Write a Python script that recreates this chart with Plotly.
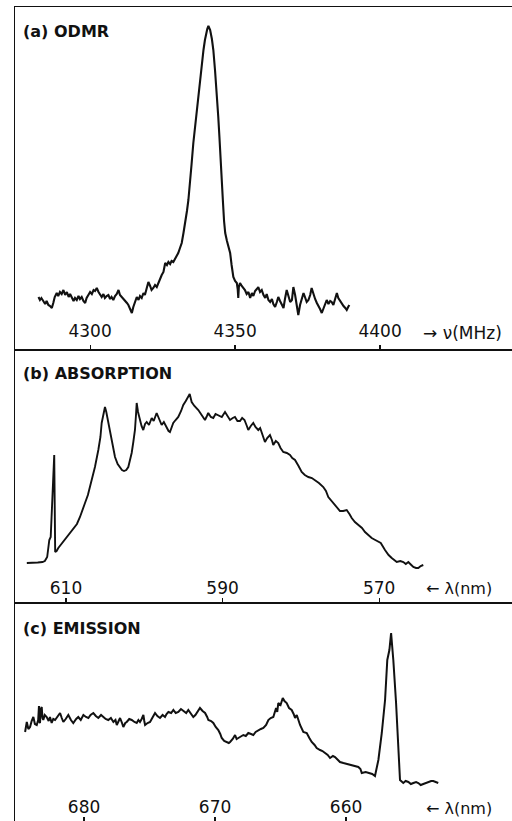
import plotly.graph_objects as go

# ---------------- data ----------------
odmr_freq = [4282.2, 4282.7, 4283.2, 4283.9, 4284.5, 4285.0, 4285.6, 4286.2, 4286.8, 4287.3, 4287.8, 4288.5,
             4289.0, 4289.6, 4290.2, 4290.8, 4291.4, 4292.0, 4292.6, 4293.1, 4293.7, 4294.3, 4294.8, 4295.4,
             4296.0, 4296.5, 4297.1, 4297.7, 4298.3, 4298.8, 4299.4, 4300.0, 4300.6, 4301.2, 4301.7, 4302.3,
             4302.9, 4303.4, 4304.0, 4304.6, 4305.1, 4305.7, 4306.3, 4306.9, 4307.4, 4308.0, 4308.6, 4309.2,
             4309.8, 4310.3, 4310.9, 4311.5, 4312.1, 4312.7, 4313.2, 4313.8, 4314.4, 4314.9, 4315.5, 4316.1,
             4316.7, 4317.2, 4317.8, 4318.4, 4318.9, 4319.5, 4320.1, 4320.7, 4321.2, 4321.8, 4322.4, 4323.0,
             4323.6, 4324.1, 4324.7, 4325.3, 4325.9, 4326.5, 4327.0, 4327.6, 4328.1, 4328.7, 4329.3, 4329.8,
             4330.4, 4331.0, 4331.6, 4332.2, 4332.8, 4333.4, 4333.9, 4334.5, 4335.0, 4335.6, 4336.2, 4336.8,
             4337.3, 4337.9, 4338.5, 4339.1, 4339.6, 4340.0, 4340.4, 4340.8, 4341.1, 4341.4, 4342.0, 4342.5,
             4343.1, 4343.7, 4344.2, 4344.6, 4345.0, 4345.4, 4345.8, 4346.2, 4346.6, 4347.2, 4347.8, 4348.3,
             4348.8, 4349.4, 4350.0, 4350.6, 4350.9, 4351.1, 4351.3, 4351.7, 4352.3, 4352.8, 4353.4, 4354.0,
             4354.6, 4355.2, 4355.8, 4356.3, 4356.9, 4357.5, 4358.0, 4358.6, 4359.2, 4359.8, 4360.4, 4360.9,
             4361.5, 4362.1, 4362.7, 4363.2, 4363.8, 4364.4, 4364.9, 4365.5, 4366.1, 4366.7, 4367.2, 4367.8,
             4368.4, 4369.0, 4369.6, 4370.1, 4370.7, 4371.2, 4371.8, 4372.4, 4373.0, 4373.6, 4374.1, 4374.7,
             4375.3, 4375.9, 4376.4, 4377.0, 4377.6, 4378.2, 4378.8, 4379.3, 4379.9, 4380.5, 4381.0, 4381.6,
             4382.2, 4382.8, 4383.3, 4383.9, 4384.5, 4385.1, 4385.6, 4386.2, 4386.8, 4387.4, 4388.0, 4388.5,
             4389.0, 4389.4]
odmr_signal = [52, 49, 51, 47, 45, 48, 44, 43, 41, 46, 52, 56,
               53, 57, 55, 59, 54, 57, 52, 55, 52, 48, 51, 49,
               53, 50, 52, 48, 46, 51, 54, 57, 55, 59, 58, 61,
               57, 55, 52, 55, 51, 53, 54, 50, 52, 49, 53, 55,
               59, 54, 52, 50, 49, 46, 44, 40, 36, 42, 47, 52,
               49, 53, 51, 56, 54, 60, 67, 63, 59, 61, 64, 62,
               67, 70, 74, 77, 86, 84, 87, 85, 88, 87, 90, 93,
               96, 101, 106, 116, 126, 138, 149, 166, 185, 206, 222, 239,
               255, 269, 285, 299, 309, 316, 320, 323, 321, 319, 310, 299,
               278, 256, 232, 212, 185, 165, 148, 128, 116, 108, 100, 96,
               84, 72, 68, 66, 60, 51, 62, 66, 63, 61, 59, 55,
               57, 51, 56, 53, 58, 60, 62, 57, 59, 54, 51, 55,
               49, 47, 50, 45, 42, 47, 52, 48, 45, 41, 50, 59,
               53, 47, 49, 62, 54, 45, 34, 44, 50, 56, 52, 47,
               49, 54, 61, 55, 50, 46, 43, 40, 36, 41, 46, 49,
               45, 48, 47, 44, 50, 56, 51, 48, 46, 43, 41, 39,
               42, 44]

abs_wavelength = [615.0, 614.3, 613.6, 613.0, 612.7, 612.4, 612.13, 611.95, 611.75, 611.50, 611.38, 611.2,
                  610.98, 610.6, 610.2, 609.91, 609.5, 609.07, 608.6, 608.21, 607.9, 607.57, 607.2, 606.93,
                  606.6, 606.30, 605.87, 605.6, 605.44, 605.2, 605.02, 604.85, 604.73, 604.38, 604.05, 603.74,
                  603.4, 603.10, 602.85, 602.59, 602.3, 602.04, 601.8, 601.61, 601.4, 601.19, 601.05, 600.97,
                  600.8, 600.55, 600.35, 600.13, 599.9, 599.69, 599.4, 599.05, 598.8, 598.42, 598.1, 597.78,
                  597.5, 597.14, 596.9, 596.72, 596.5, 596.30, 596.0, 595.66, 595.3, 595.02, 594.7, 594.38,
                  594.2, 593.95, 593.6, 593.10, 592.7, 592.25, 592.0, 591.83, 591.5, 591.19, 590.9, 590.55,
                  590.1, 589.69, 589.4, 589.05, 588.7, 588.42, 588.1, 587.78, 587.5, 587.2, 586.9, 586.72,
                  586.4, 586.08, 585.8, 585.44, 585.2, 585.01, 584.8, 584.59, 584.3, 583.95, 583.7, 583.53,
                  583.2, 582.89, 582.6, 582.25, 581.8, 581.39, 581.1, 580.75, 580.3, 579.90, 579.5, 579.05,
                  578.6, 578.20, 577.7, 577.14, 576.8, 576.50, 576.1, 575.64, 575.3, 575.01, 574.6, 574.15,
                  573.8, 573.51, 573.1, 572.67, 572.2, 571.81, 571.4, 570.96, 570.5, 570.11, 569.8, 569.26,
                  568.8, 568.40, 568.1, 567.76, 567.3, 566.92, 566.6, 566.28, 565.9, 565.64, 565.3, 565.00,
                  564.7, 564.37]
abs_signal = [39, 39, 39.5, 40, 41, 45, 62, 65, 95, 147, 50, 51,
              54, 58, 62, 65, 69, 74, 78, 85, 91, 99, 107, 115,
              125, 135, 152, 165, 179, 190, 195, 190, 185, 169, 155, 145,
              138, 134, 132, 131, 132, 135, 142, 149, 160, 172, 188, 199,
              190, 182, 176, 172, 178, 180, 177, 184, 181, 189, 183, 177,
              180, 174, 171, 170, 175, 179, 182, 185, 191, 197, 201, 205,
              208, 200, 196, 192, 187, 182, 186, 189, 185, 184, 188, 187,
              185, 190, 186, 182, 184, 185, 181, 181, 184, 182, 176, 172,
              176, 179, 175, 172, 174, 170, 164, 160, 164, 167, 162, 157,
              161, 159, 154, 150, 149, 147, 144, 142, 136, 130, 127, 125,
              124, 122, 119, 115, 111, 105, 101, 97, 94, 91, 91, 92,
              88, 84, 80, 77, 74, 70, 67, 64, 62, 60, 59, 52,
              47, 44, 42, 40, 41, 40, 38, 40, 37, 35, 34, 34,
              36, 37]

em_wavelength = [684.50, 684.37, 684.25, 684.12, 684.0, 683.87, 683.75, 683.61, 683.5, 683.44, 683.40, 683.36,
                 683.3, 683.23, 683.17, 683.11, 683.0, 682.85, 682.7, 682.6, 682.47, 682.35, 682.21, 682.0,
                 681.83, 681.7, 681.58, 681.4, 681.20, 681.0, 680.82, 680.6, 680.44, 680.25, 680.05, 679.85,
                 679.67, 679.5, 679.29, 679.1, 678.91, 678.7, 678.53, 678.35, 678.15, 677.95, 677.76, 677.6,
                 677.50, 677.35, 677.25, 677.1, 677.00, 676.85, 676.74, 676.55, 676.36, 676.15, 675.98, 675.85,
                 675.73, 675.6, 675.47, 675.4, 675.34, 675.15, 674.96, 674.75, 674.58, 674.4, 674.20, 674.0,
                 673.82, 673.7, 673.56, 673.35, 673.18, 673.0, 672.80, 672.6, 672.42, 672.2, 672.04, 671.85,
                 671.66, 671.5, 671.40, 671.25, 671.15, 670.95, 670.76, 670.6, 670.51, 670.3, 670.13, 669.95,
                 669.75, 669.6, 669.49, 669.3, 669.11, 668.95, 668.85, 668.65, 668.47, 668.35, 668.22, 668.0,
                 667.84, 667.65, 667.46, 667.25, 667.08, 666.9, 666.69, 666.5, 666.31, 666.1, 665.93, 665.75,
                 665.55, 665.45, 665.34, 665.25, 665.17, 665.0, 664.83, 664.7, 664.53, 664.35, 664.15, 664.0,
                 663.89, 663.76, 663.6, 663.51, 663.26, 663.0, 662.8, 662.62, 662.4, 662.24, 661.98, 661.8,
                 661.60, 661.4, 661.22, 661.0, 660.84, 660.6, 660.46, 660.2, 659.95, 659.7, 659.44, 659.2,
                 659.06, 658.9, 658.80, 658.5, 658.30, 658.0, 657.79, 657.53, 657.27, 657.02, 656.85, 656.69,
                 656.56, 656.39, 656.18, 656.01, 655.88, 655.63, 655.45, 655.24, 655.05, 654.86, 654.65, 654.48,
                 654.3, 654.10, 653.9, 653.72, 653.5, 653.34, 653.15, 652.96]
em_signal = [89, 99, 92, 94, 100, 104, 97, 96, 101, 115, 99, 98,
             112, 114, 103, 101, 106, 104, 100, 104, 98, 102, 101, 105,
             108, 103, 99, 102, 106, 101, 98, 102, 104, 101, 106, 104,
             103, 106, 108, 105, 103, 106, 104, 102, 101, 103, 99, 101,
             96, 100, 103, 98, 94, 98, 99, 102, 101, 99, 98, 101,
             99, 102, 106, 100, 96, 98, 99, 104, 108, 105, 103, 106,
             104, 107, 109, 108, 111, 108, 109, 112, 110, 108, 111, 107,
             104, 106, 108, 110, 113, 110, 108, 104, 101, 100, 98, 94,
             91, 87, 83, 80, 79, 78, 79, 82, 86, 82, 83, 85,
             86, 85, 88, 87, 86, 89, 91, 92, 93, 96, 101, 103,
             104, 108, 113, 109, 118, 116, 123, 120, 118, 113, 111, 107,
             103, 106, 99, 96, 89, 88, 83, 79, 76, 73, 71, 70,
             68, 66, 63, 65, 64, 61, 59, 58, 57, 56, 55, 54,
             54, 52, 48, 49, 48, 47, 45, 61, 88, 121, 161, 171,
             188, 161, 118, 74, 41, 38, 40, 39, 37, 38, 39, 38,
             36, 37, 38, 39, 40, 40, 39, 38]

odmr_ticks = [4300, 4350, 4400]
abs_ticks = [610, 590, 570]
em_ticks = [680, 670, 660]

panel_titles = ["(a) ODMR", "(b) ABSORPTION", "(c) EMISSION"]
axis_names = ["→ ν(MHz)", "← λ(nm)", "← λ(nm)"]

# ---------------- figure ----------------
W, H = 512, 821
FONT = "DejaVu Sans"
INK = "#111111"

fig = go.Figure()
fig.add_trace(go.Scatter(x=odmr_freq, y=odmr_signal, mode="lines",
                         line=dict(color=INK, width=2.1), xaxis="x", yaxis="y", showlegend=False))
fig.add_trace(go.Scatter(x=abs_wavelength, y=abs_signal, mode="lines",
                         line=dict(color=INK, width=1.9), xaxis="x2", yaxis="y2", showlegend=False))
fig.add_trace(go.Scatter(x=em_wavelength, y=em_signal, mode="lines",
                         line=dict(color=INK, width=2.0), xaxis="x3", yaxis="y3", showlegend=False))

xdom = [15 / W, 1.0]
ydoms = [[(H - 349) / H, (H - 7) / H], [(H - 602) / H, (H - 349) / H], [0.0, (H - 602) / H]]
xranges = [[4274.1, 4445.5], [616.51, 553.04], [685.27, 647.33]]
yranges = [[0, 342], [0, 253], [0, 219]]
ticks = [odmr_ticks, abs_ticks, em_ticks]
standoffs = [5, 1, 1]

def xax(i):
    return dict(domain=xdom, range=xranges[i], anchor=["y", "y2", "y3"][i],
                showline=True, linecolor=INK, linewidth=1.5, mirror=(i == 0),
                showgrid=False, zeroline=False,
                tickmode="array", tickvals=ticks[i], ticktext=[str(t) for t in ticks[i]],
                ticks="inside", ticklen=4, tickwidth=1.2, tickcolor=INK,
                ticklabelposition="inside", ticklabelstandoff=standoffs[i],
                tickfont=dict(family=FONT, size=17, color=INK), fixedrange=True)

def yax(i):
    return dict(domain=ydoms[i], range=yranges[i], anchor=["x", "x2", "x3"][i],
                showline=True, linecolor=INK, linewidth=1.5, mirror=False,
                showgrid=False, zeroline=False, showticklabels=False, ticks="",
                fixedrange=True)

annotations = []
title_y = [31, 373, 628]
for i, t in enumerate(panel_titles):
    annotations.append(dict(text=t, xref="paper", yref="paper", x=21 / W, y=(H - title_y[i]) / H,
                            xanchor="left", yanchor="middle", showarrow=False,
                            font=dict(family=FONT, size=16, color=INK, weight="bold")))
name_pos = [(421, 333), (424, 588), (424, 808)]
name_size = [17, 16, 16]
for i, t in enumerate(axis_names):
    annotations.append(dict(text=t, xref="paper", yref="paper", x=name_pos[i][0] / W,
                            y=(H - name_pos[i][1]) / H, xanchor="left", yanchor="middle",
                            showarrow=False, font=dict(family=FONT, size=name_size[i], color=INK)))

fig.update_layout(
    width=W, height=H, margin=dict(l=0, r=0, t=0, b=0),
    paper_bgcolor="white", plot_bgcolor="white",
    xaxis=xax(0), xaxis2=xax(1), xaxis3=xax(2),
    yaxis=yax(0), yaxis2=yax(1), yaxis3=yax(2),
    annotations=annotations, showlegend=False,
)

fig.write_html("out.html",
               config={"displayModeBar": False, "staticPlot": True},
               post_script="document.body.style.margin='0';document.body.style.padding='0';"
                           "document.documentElement.style.overflow='hidden';")
